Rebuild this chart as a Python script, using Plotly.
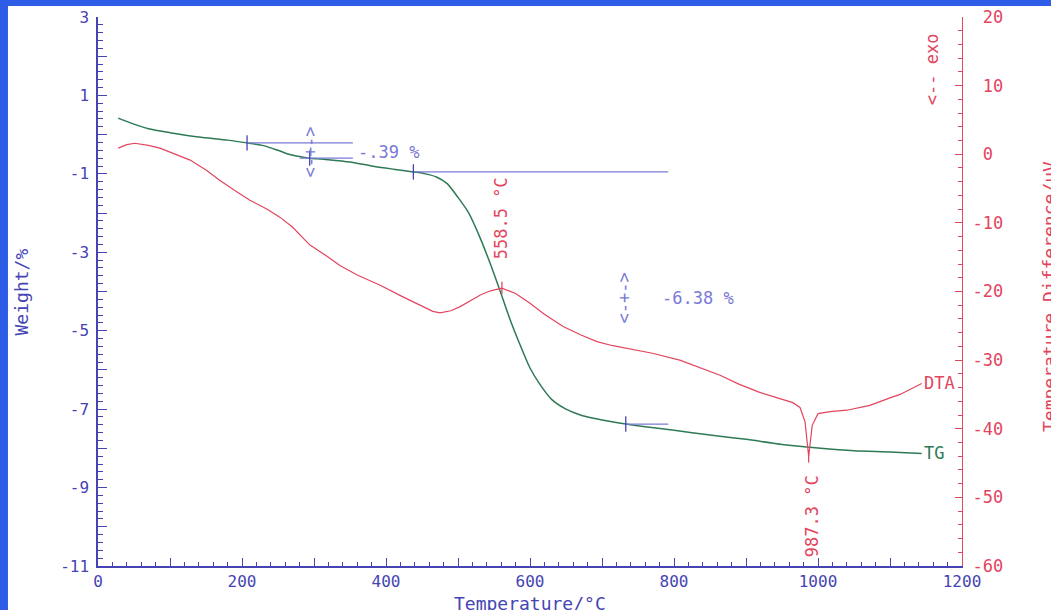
import plotly.graph_objects as go

# ---------------- data ----------------
tg_temp = [28, 45, 70, 100, 140, 180, 207, 230, 250, 265, 280, 294, 320, 350, 380, 410,
           438, 455, 470, 485, 500, 515, 530, 545, 558, 572, 586, 600, 615, 630, 650, 670,
           690, 710, 733, 760, 800, 850, 900, 950, 1000, 1050, 1100, 1144]
tg_weight = [0.42, 0.30, 0.15, 0.05, -0.06, -0.14, -0.21, -0.28, -0.40, -0.50, -0.56, -0.60,
             -0.64, -0.70, -0.80, -0.88, -0.95, -1.00, -1.08, -1.25, -1.60, -2.00, -2.60,
             -3.30, -3.96, -4.70, -5.35, -5.95, -6.40, -6.75, -7.00, -7.15, -7.24, -7.31,
             -7.38, -7.45, -7.54, -7.66, -7.77, -7.90, -7.99, -8.06, -8.09, -8.13]

dta_temp = [28, 40, 51, 70, 86, 110, 128, 150, 169, 190, 211, 235, 253, 270, 294, 320, 336,
            360, 392, 420, 447, 465, 475, 490, 503, 520, 531, 545, 561, 580, 600, 620, 646,
            670, 693, 715, 739, 770, 808, 840, 864, 890, 919, 947, 965, 975, 982, 987, 992,
            1000, 1017, 1040, 1072, 1100, 1114, 1144]
dta_uv = [0.9, 1.4, 1.6, 1.3, 0.9, -0.1, -0.85, -2.3, -3.8, -5.3, -6.7, -8.0, -9.2, -10.6,
          -13.2, -15.0, -16.2, -17.6, -19.1, -20.6, -22.0, -22.9, -23.1, -22.8, -22.2, -21.2,
          -20.5, -19.9, -19.5, -20.3, -21.7, -23.3, -25.1, -26.3, -27.3, -27.9, -28.4, -29.0,
          -30.0, -31.2, -32.2, -33.5, -34.7, -35.6, -36.2, -36.9, -39.0, -44.0, -39.5, -37.8,
          -37.5, -37.3, -36.6, -35.5, -35.0, -33.4]

# mass-loss step evaluation (TG)
step_mark_temp = [207, 294, 438, 733]
step_mark_weight = [-0.21, -0.60, -0.95, -7.38]
step_line_start_temp = [207, 280, 438, 733]
step_line_end_temp = [354, 354, 792, 792]
step_values = ["-.39 %", "-6.38 %"]
step_value_temp = [294, 731]
step_value_weight = [-0.44, -4.17]
step_value_text_temp = [358, 780]

# DTA peaks
peak_temp = [561, 987]
peak_uv = [-19.5, -44.0]
peak_labels = ["558.5 °C", "987.3 °C"]
peak_label_temp = [560, 992]
peak_label_uv = [-9.3, -52.7]

x_ticks = list(range(0, 1201, 100))
x_tick_text = [str(v) if v % 200 == 0 else "" for v in x_ticks]
y_ticks = list(range(-11, 4))
y_tick_text = [str(v) if v % 2 != 0 else "" for v in y_ticks]
y2_ticks = list(range(-60, 21, 10))
y2_tick_text = [("-" + str(-v)) if v < 0 else "\u00a0" + str(v) for v in y2_ticks]

# ---------------- styling ----------------
BLUE = "#4444b4"
LBLUE = "#7a7ad6"
RED = "#e2455e"
GREEN = "#2e7a55"
FONT = "DejaVu Sans Mono"

fig = go.Figure()

fig.add_trace(go.Scatter(x=tg_temp, y=tg_weight, mode="lines",
                         line=dict(color=GREEN, width=1.5, shape="spline", smoothing=0.6),
                         hoverinfo="skip", showlegend=False))
fig.add_trace(go.Scatter(x=dta_temp, y=dta_uv, mode="lines", yaxis="y2",
                         line=dict(color=RED, width=1.2),
                         hoverinfo="skip", showlegend=False))

# step evaluation lines
lx, ly = [], []
for t0, t1, w in zip(step_line_start_temp, step_line_end_temp, step_mark_weight):
    lx += [t0, t1, None]
    ly += [w, w, None]
fig.add_trace(go.Scatter(x=lx, y=ly, mode="lines", line=dict(color=LBLUE, width=1.2),
                         hoverinfo="skip", showlegend=False))
fig.add_trace(go.Scatter(x=step_mark_temp, y=step_mark_weight, mode="markers",
                         marker=dict(symbol="line-ns", size=11, line=dict(color=BLUE, width=1.3)),
                         hoverinfo="skip", showlegend=False))
fig.add_trace(go.Scatter(x=peak_temp, y=peak_uv, mode="markers", yaxis="y2",
                         marker=dict(symbol="line-ns", size=9, line=dict(color=RED, width=1.3)),
                         hoverinfo="skip", showlegend=False))

ann = []
for t, w, tt, lab in zip(step_value_temp, step_value_weight, step_value_text_temp, step_values):
    ann.append(dict(x=t, y=w, xref="x", yref="y", text="<-+->", textangle=-90,
                    xanchor="center", yanchor="middle",
                    showarrow=False, font=dict(family=FONT, size=17, color=LBLUE)))
    ann.append(dict(x=tt, y=w, xref="x", yref="y", text=lab, xanchor="left", yanchor="middle",
                    showarrow=False, font=dict(family=FONT, size=17, color=LBLUE)))
for t, d, lab in zip(peak_label_temp, peak_label_uv, peak_labels):
    ann.append(dict(x=t, y=d, xref="x", yref="y2", text=lab, textangle=-90,
                    xanchor="center", yanchor="middle",
                    showarrow=False, font=dict(family=FONT, size=17, color=RED)))
ann += [
    dict(x=1145, y=-8.12, xref="x", yref="y", text="TG", xanchor="left", yanchor="middle",
         showarrow=False, font=dict(family=FONT, size=17, color=GREEN)),
    dict(x=1145, y=-33.4, xref="x", yref="y2", text="DTA", xanchor="left", yanchor="middle",
         showarrow=False, font=dict(family=FONT, size=17, color=RED)),
    dict(x=1158, y=12.35, xref="x", yref="y2", text="<-- exo", textangle=-90,
         xanchor="center", yanchor="middle", showarrow=False,
         font=dict(family=FONT, size=17, color=RED)),
    dict(x=0.5, y=-0.068, xref="paper", yref="paper", text="Temperature/°C", showarrow=False,
         xanchor="center", yanchor="middle", font=dict(family=FONT, size=18, color=BLUE)),
    dict(x=-0.088, y=0.5, xref="paper", yref="paper", text="Weight/%", textangle=-90,
         xanchor="center", yanchor="middle", showarrow=False,
         font=dict(family=FONT, size=18, color=BLUE)),
    dict(x=1.1019, y=0.49, xref="paper", yref="paper", text="Temperature Difference/uV",
         textangle=-90, xanchor="center", yanchor="middle", showarrow=False,
         font=dict(family=FONT, size=18, color=RED)),
]

fig.update_layout(
    width=1051, height=610,
    margin=dict(l=98, r=89, t=17, b=44, autoexpand=False),
    paper_bgcolor="#2d5de6",
    plot_bgcolor="white",
    showlegend=False,
    annotations=ann,
    shapes=[dict(type="rect", xref="paper", yref="paper", x0=-0.1042, x1=1.3, y0=-0.3, y1=1.02,
                 fillcolor="white", line=dict(width=0), layer="below")],
    xaxis=dict(range=[0, 1200], tickvals=x_ticks, ticktext=x_tick_text, ticks="inside",
               ticklen=8, tickwidth=1.3, tickcolor=BLUE, showline=True, linecolor=BLUE,
               linewidth=1.5, showgrid=False, zeroline=False, automargin=False,
               tickfont=dict(family=FONT, size=16, color=BLUE),
               minor=dict(dtick=20, ticks="inside", ticklen=4, tickcolor=BLUE, tickwidth=1.2,
                          showgrid=False)),
    yaxis=dict(range=[-11, 3], tickvals=y_ticks, ticktext=y_tick_text, ticks="inside",
               ticklen=9, tickwidth=1.3, tickcolor=BLUE, showline=True, linecolor=BLUE,
               linewidth=1.5, showgrid=False, zeroline=False, ticklabelstandoff=4,
               automargin=False,
               tickfont=dict(family=FONT, size=16, color=BLUE),
               minor=dict(tick0=0, dtick=0.2, ticks="inside", ticklen=5, tickcolor=BLUE,
                          tickwidth=1.2, showgrid=False)),
    yaxis2=dict(range=[-60, 20], overlaying="y", side="right", anchor="x",
                tickvals=y2_ticks, ticktext=y2_tick_text, ticks="inside", ticklen=7,
                tickwidth=1.2, tickcolor=RED, showline=True, linecolor=RED, linewidth=1.3,
                showgrid=False, zeroline=False, ticklabelstandoff=6, automargin=False,
                tickfont=dict(family=FONT, size=17, color=RED),
                minor=dict(dtick=2, ticks="inside", ticklen=4, tickcolor=RED, tickwidth=1.1,
                           showgrid=False)),
)

fig.write_html("out.html")
